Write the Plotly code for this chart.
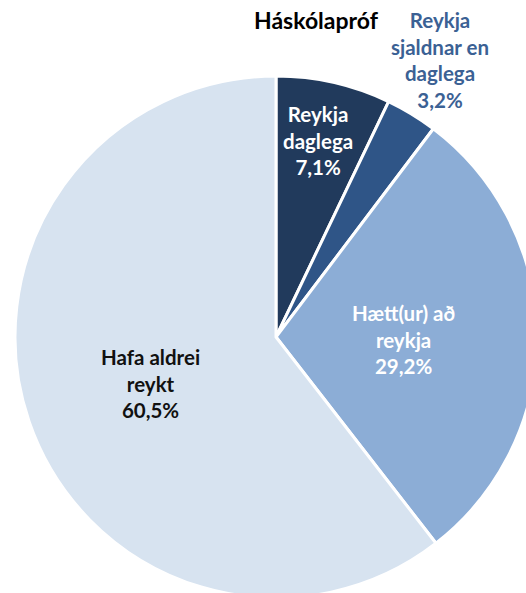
import plotly.graph_objects as go

# Data
categories = ["Reykja daglega", "Reykja sjaldnar en daglega", "Hætt(ur) að reykja", "Hafa aldrei reykt"]
label_lines = ["Reykja<br>daglega", "Reykja<br>sjaldnar en<br>daglega", "Hætt(ur) að<br>reykja", "Hafa aldrei<br>reykt"]
shares = [7.1, 3.2, 29.2, 60.5]
title_text = "Háskólapróf"

colors = ["#213a5c", "#2f5587", "#8cadd6", "#d7e3f0"]
label_colors = ["white", "#3b6194", "white", "#111111"]
label_pos = [(318, 140), (440, 60), (403, 339), (150, 383)]

W, H = 560, 620
cx, cy, r = 276, 337, 261

fig = go.Figure(
    go.Pie(
        labels=categories,
        values=shares,
        sort=False,
        direction="clockwise",
        rotation=0,
        textinfo="none",
        hoverinfo="skip",
        marker=dict(colors=colors, line=dict(color="white", width=3)),
        domain=dict(x=[(cx - r) / W, (cx + r) / W], y=[(H - cy - r) / H, (H - cy + r) / H]),
        showlegend=False,
    )
)

font = "Lato, Open Sans, sans-serif"
for txt, v, (x, y), c in zip(label_lines, shares, label_pos, label_colors):
    pct = f"{v:.1f}".replace(".", ",") + "%"
    fig.add_annotation(
        x=x / W, y=1 - y / H, xref="paper", yref="paper",
        text=f"<b>{txt}<br>{pct}</b>", showarrow=False,
        font=dict(family=font, size=20.5, color=c),
        align="center", xanchor="center", yanchor="middle",
    )

fig.add_annotation(
    x=316 / W, y=1 - 20 / H, xref="paper", yref="paper",
    text=f"<b>{title_text}</b>", showarrow=False,
    font=dict(family=font, size=23, color="black"),
    xanchor="center", yanchor="middle",
)

fig.update_layout(
    width=W, height=H,
    margin=dict(l=0, r=0, t=0, b=0),
    paper_bgcolor="white",
    plot_bgcolor="white",
)

fig.write_html(
    "out.html",
    config={"displayModeBar": False},
    post_script="document.body.style.margin='0';document.body.style.overflow='hidden';",
)
